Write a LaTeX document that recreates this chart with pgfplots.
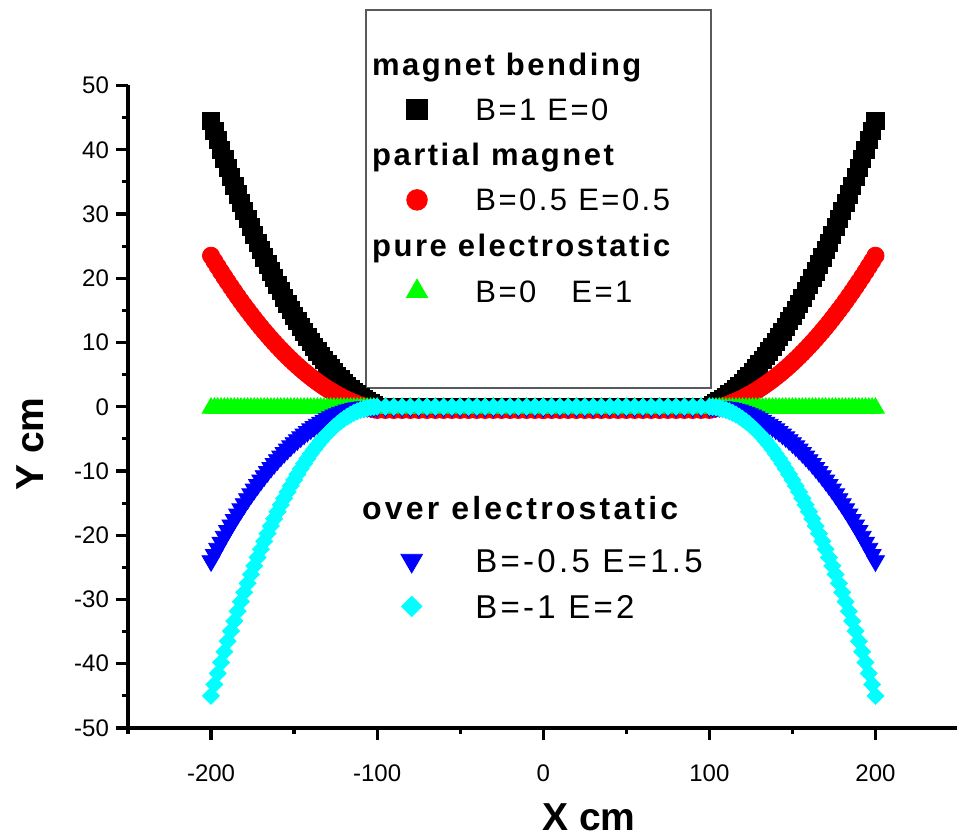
\documentclass[border=0pt]{standalone}
\usepackage{fontspec}
\setmainfont{Liberation Sans}
\newfontfamily\legfontA[LetterSpace=8]{Liberation Sans}
\newfontfamily\legfontB[LetterSpace=10]{Liberation Sans}
\usepackage{pgfplots}
\usepackage{pgfplotstable}
\pgfplotsset{compat=1.18}
\definecolor{ored}{RGB}{255,0,0}
\definecolor{ogreen}{RGB}{0,255,0}
\definecolor{oblue}{RGB}{0,0,255}
\definecolor{ocyan}{RGB}{0,255,255}
\definecolor{boxgray}{RGB}{90,90,90}
% x >= 0 half of each (symmetric) trajectory: k = B=1 E=0, r = B=0.5 E=0.5, g = B=0 E=1, b = B=-0.5 E=1.5, c = B=-1 E=2
\pgfplotstableread{
x k r g b c
0 0 -0.5 -0.2 0 0
5 0 -0.5 -0.2 0 0
10 0 -0.5 -0.2 0 0
15 0 -0.5 -0.2 0 0
20 0 -0.5 -0.2 0 0
25 0 -0.5 -0.2 0 0
30 0 -0.5 -0.2 0 0
35 0 -0.5 -0.2 0 0
40 0 -0.5 -0.2 0 0
45 0 -0.5 -0.2 0 0
50 0 -0.5 -0.2 0 0
55 0 -0.5 -0.2 0 0
60 0 -0.5 -0.2 0 0
65 0 -0.5 -0.2 0 0
70 0 -0.5 -0.2 0 0
75 0 -0.5 -0.2 0 0
80 0 -0.5 -0.2 0 0
85 0 -0.5 -0.2 0 0
90 0 -0.5 -0.2 0 0
95 0 -0.5 -0.2 0 0
100 0 -0.5 -0.2 0 0
102 0.26 -0.38 -0.2 0 -0.03
104 0.54 -0.25 -0.2 0 -0.10
106 0.85 -0.11 -0.2 0 -0.20
108 1.19 0.05 -0.2 -0.04 -0.33
110 1.55 0.23 -0.2 -0.11 -0.50
112 1.94 0.42 -0.2 -0.19 -0.71
114 2.35 0.62 -0.2 -0.29 -0.95
116 2.79 0.84 -0.2 -0.41 -1.23
118 3.26 1.07 -0.2 -0.56 -1.55
120 3.75 1.32 -0.2 -0.72 -1.90
122 4.26 1.59 -0.2 -0.90 -2.28
124 4.81 1.87 -0.2 -1.11 -2.70
126 5.37 2.16 -0.2 -1.33 -3.16
128 5.97 2.47 -0.2 -1.58 -3.65
130 6.59 2.79 -0.2 -1.85 -4.18
132 7.23 3.13 -0.2 -2.13 -4.74
134 7.90 3.49 -0.2 -2.44 -5.34
136 8.60 3.85 -0.2 -2.76 -5.97
138 9.32 4.24 -0.2 -3.11 -6.64
140 10.07 4.64 -0.2 -3.48 -7.34
142 10.85 5.05 -0.2 -3.87 -8.08
144 11.65 5.48 -0.2 -4.28 -8.86
146 12.47 5.92 -0.2 -4.71 -9.67
148 13.32 6.38 -0.2 -5.16 -10.52
150 14.20 6.85 -0.2 -5.63 -11.40
152 15.10 7.34 -0.2 -6.12 -12.32
154 16.03 7.84 -0.2 -6.63 -13.27
156 16.99 8.36 -0.2 -7.16 -14.26
158 17.97 8.89 -0.2 -7.71 -15.28
160 18.97 9.44 -0.2 -8.28 -16.34
162 20.00 10.00 -0.2 -8.87 -17.44
164 21.06 10.57 -0.2 -9.48 -18.57
166 22.14 11.17 -0.2 -10.12 -19.74
168 23.25 11.77 -0.2 -10.77 -20.94
170 24.39 12.39 -0.2 -11.45 -22.18
172 25.55 13.03 -0.2 -12.14 -23.45
174 26.73 13.68 -0.2 -12.85 -24.76
176 27.95 14.35 -0.2 -13.59 -26.10
178 29.18 15.03 -0.2 -14.34 -27.48
180 30.45 15.72 -0.2 -15.12 -28.90
182 31.74 16.43 -0.2 -15.92 -30.35
184 33.05 17.16 -0.2 -16.73 -31.83
186 34.39 17.90 -0.2 -17.57 -33.35
188 35.76 18.66 -0.2 -18.43 -34.91
190 37.15 19.43 -0.2 -19.31 -36.50
192 38.57 20.21 -0.2 -20.20 -38.13
194 40.01 21.01 -0.2 -21.12 -39.80
196 41.48 21.83 -0.2 -22.06 -41.50
198 42.98 22.66 -0.2 -23.02 -43.23
200 44.50 23.50 -0.2 -24.00 -45.00
}\data

\pgfplotsset{
  common/.style={
    width=415.25pt, height=321.25pt, scale only axis,
    xmin=-250, xmax=250, ymin=-50, ymax=50,
    clip=false,
    legend cell align=left,
    legend image code/.code={\path (-6pt,0pt) (6pt,0pt); \draw[##1] plot coordinates {(0pt,0pt)};},
    legend image post style={/tikz/every mark/.append style={scale=1.2}},
    legend style={draw=none, fill=none, inner sep=0pt, row sep=11.5pt,
      font=\legfontA\fontsize{15.5}{17}\selectfont,
      nodes={inner sep=0pt, text height=11.1pt, text depth=0pt, anchor=west}},
  },
}

\begin{document}
\begin{tikzpicture}
\begin{axis}[common, name=ax,
  axis x line*=bottom, axis y line*=left,
  axis line style={-, line width=1.6pt, black},
  xtick pos=left, ytick pos=left,
  xtick={-200,-100,0,100,200}, minor xtick={-250,-150,-50,50,150,250},
  ytick={-50,-40,...,50}, minor ytick={-45,-35,...,45},
  tick align=outside, major tick length=6pt, minor tick length=3pt,
  tick style={line width=1.6pt, black},
  tick label style={font=\fontsize{12}{14}\selectfont, black},
  xticklabel style={yshift=-9pt},
  /pgf/number format/assume math mode=true,
  xlabel={X cm}, ylabel={Y cm},
  label style={font=\bfseries\fontsize{19.5}{22}\selectfont},
  xlabel style={at={(axis description cs:0.555,-0.1385)}, anchor=center},
  ylabel style={at={(axis description cs:-0.118,0.442)}, anchor=center},
  legend style={at={(axis cs:-83.7,55.09)}, anchor=north west, column sep=23pt},
]
\draw[boxgray, line width=0.6pt] (axis cs:-106.7,61.75) rectangle (axis cs:101.0,2.92);

\addlegendimage{empty legend}
\addlegendentry{\hspace*{-51.6pt}\textbf{magnet bending}}
\addplot[only marks, mark=square*, mark size=4.3pt, color=black, mark options={draw=none}] table[x=x, y=k] {\data};
\addlegendentry{B=1 E=0}
\addplot[only marks, mark=square*, mark size=4.3pt, color=black, mark options={draw=none}, forget plot] table[x expr=-\thisrow{x}, y=k] {\data};

\addlegendimage{empty legend}
\addlegendentry{\hspace*{-51.6pt}\textbf{partial magnet}}
\addplot[only marks, mark=*, mark size=4.3pt, color=ored, mark options={draw=none}] table[x=x, y=r] {\data};
\addlegendentry{B=0.5 E=0.5}
\addplot[only marks, mark=*, mark size=4.3pt, color=ored, mark options={draw=none}, forget plot] table[x expr=-\thisrow{x}, y=r] {\data};

\addlegendimage{empty legend}
\addlegendentry{\hspace*{-51.6pt}\textbf{pure electrostatic}}
\addplot[only marks, mark=triangle*, mark size=5.1pt, color=ogreen, mark options={draw=none}] table[x=x, y=g] {\data};
\addlegendentry{B=0\hspace{17.5pt}E=1}
\addplot[only marks, mark=triangle*, mark size=5.1pt, color=ogreen, mark options={draw=none}, forget plot] table[x expr=-\thisrow{x}, y=g] {\data};
\end{axis}

\begin{axis}[common, hide axis,
  legend style={at={(axis cs:-86.9,-15.0)}, anchor=north west, column sep=25.6pt, row sep=10.8pt,
    font=\legfontB\fontsize{16.5}{18}\selectfont,
    nodes={text height=11.8pt}},
]
\addlegendimage{empty legend}
\addlegendentry{\hspace*{-56.6pt}\raisebox{3.7pt}{\fontsize{16}{18}\selectfont\textbf{over electrostatic}}}
\addplot[only marks, mark=triangle*, mark size=5.2pt, color=oblue, mark options={draw=none, rotate=180}] table[x=x, y=b] {\data};
\addlegendentry{B=-0.5 E=1.5}
\addplot[only marks, mark=triangle*, mark size=5.2pt, color=oblue, mark options={draw=none, rotate=180}, forget plot] table[x expr=-\thisrow{x}, y=b] {\data};
\addplot[only marks, mark=square*, mark size=3pt, color=ocyan, mark options={draw=none, rotate=45}] table[x=x, y=c] {\data};
\addlegendentry{B=-1 E=2}
\addplot[only marks, mark=square*, mark size=3pt, color=ocyan, mark options={draw=none, rotate=45}, forget plot] table[x expr=-\thisrow{x}, y=c] {\data};
\end{axis}

\pgfresetboundingbox
\path ([xshift=-64pt,yshift=-54pt]ax.south west) rectangle ([xshift=-0.75pt,yshift=42.75pt]ax.north east);
\end{tikzpicture}
\end{document}
